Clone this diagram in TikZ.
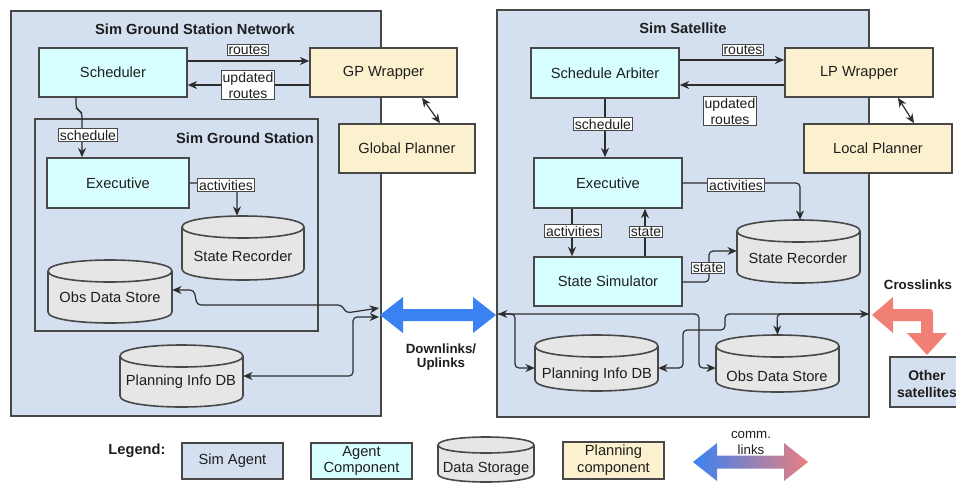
\documentclass[tikz,border=0pt]{standalone}
\usepackage{fontspec}
\setmainfont{Liberation Sans}
\usetikzlibrary{arrows.meta,fit}
\definecolor{agentc}{RGB}{212,223,240}
\definecolor{compc}{RGB}{216,255,255}
\definecolor{planc}{RGB}{252,241,206}
\definecolor{storec}{RGB}{230,230,230}
\definecolor{bord}{RGB}{72,72,72}
\definecolor{linec}{RGB}{45,45,45}
\definecolor{txt}{RGB}{30,30,30}
\definecolor{linkblue}{RGB}{58,130,242}
\definecolor{linkpink}{RGB}{240,128,118}
\definecolor{legpink}{RGB}{232,128,128}
\tikzset{
  every node/.style={text=txt},
  box/.style={draw=bord, line width=1.2pt, inner sep=0pt},
  agentbox/.style={box, fill=agentc},
  compbox/.style={box, fill=compc},
  planbox/.style={box, fill=planc},
  boxtxt/.style={inner sep=0pt, align=center, font=\fontsize{11}{12.5}\selectfont},
  ttl/.style={font=\bfseries\fontsize{11}{13}\selectfont, inner sep=0pt, align=center},
  lbl/.style={draw=bord, fill=white, line width=0.8pt, inner sep=1pt, align=center, font=\fontsize{10.5}{12}\selectfont},
  conn/.style={draw=linec, line width=0.9pt, rounded corners=3pt, -{Stealth[length=7pt,width=6pt]}},
  conntwo/.style={conn, {Stealth[length=7pt,width=6pt]}-{Stealth[length=7pt,width=6pt]}},
  cyltxt/.style={inner sep=0pt, font=\fontsize{11}{13}\selectfont},
}
\newcommand{\dbcyl}[6]{%
  \path[draw=bord, fill=storec, line width=1.2pt, line join=round]
    (#2,{#3+#6}) -- (#2,{#5-#6})
    .. controls (#2,{#5+0.333*#6}) and (#4,{#5+0.333*#6}) .. (#4,{#5-#6})
    -- (#4,{#3+#6})
    .. controls (#4,{#3-0.333*#6}) and (#2,{#3-0.333*#6}) .. (#2,{#3+#6}) -- cycle;
  \draw[bord, line width=1.2pt] (#2,{#3+#6})
    .. controls (#2,{#3+2.333*#6}) and (#4,{#3+2.333*#6}) .. (#4,{#3+#6});
  \node[fit={(#2,#3) (#4,#5)}, inner sep=0pt] (#1) {};
}
\begin{document}
\begin{tikzpicture}[x=0.75pt,y=-0.75pt]
\useasboundingbox (0,0) rectangle (956,483);

% ---------- agents
\node[agentbox, fit={(11,11) (381,416)}] (gsn) {};
\node[agentbox, fit={(497,10) (869,417)}] (sat) {};
\node[ttl] (gsnt) at (195,29) {Sim Ground Station Network};
\node[ttl] (satt) at (683,28) {Sim Satellite};
\node[agentbox, fit={(35,119) (318,331)}] (gs) {};
\node[ttl] (gst) at (245,138) {Sim Ground Station};

% ---------- ground side components
\node[compbox, fit={(39,48) (187,97)}] (sched) {};
\node[boxtxt] (schedt) at (sched) {Scheduler};
\node[planbox, fit={(310,48) (457,97)}] (gpw) {};
\node[boxtxt] (gpwt) at (gpw) {GP Wrapper};
\node[planbox, fit={(339,124) (475,173)}] (gp) {};
\node[boxtxt] (gpt) at (gp) {Global Planner};
\node[compbox, fit={(47,158) (189,208)}] (execG) {};
\node[boxtxt] (execGt) at (execG) {Executive};
\dbcyl{srG}{182}{216}{304}{280}{11}
\node[cyltxt] (srGt) at (243,256) {State Recorder};
\dbcyl{obsG}{48}{260}{172}{323}{11}
\node[cyltxt] (obsGt) at (110,297) {Obs Data Store};
\dbcyl{planG}{120}{345}{243}{407}{11}
\node[cyltxt] (planGt) at (181,382) {Planning Info DB};

% ---------- satellite components
\node[compbox, fit={(531,48) (679,98)}] (sa) {};
\node[boxtxt] (sat2) at (sa) {Schedule Arbiter};
\node[planbox, fit={(785,48) (933,97)}] (lpw) {};
\node[boxtxt] (lpwt) at (lpw) {LP Wrapper};
\node[planbox, fit={(804,124) (952,173)}] (lp) {};
\node[boxtxt] (lpt) at (lp) {Local Planner};
\node[compbox, fit={(534,158) (682,208)}] (execS) {};
\node[boxtxt] (execSt) at (execS) {Executive};
\node[compbox, fit={(534,257) (682,306)}] (simS) {};
\node[boxtxt] (simSt) at (simS) {State Simulator};
\dbcyl{srS}{737}{220}{860}{283}{11}
\node[cyltxt] (srSt) at (798,258) {State Recorder};
\dbcyl{planS}{535}{335}{658}{391}{11}
\node[cyltxt] (planSt) at (597,375) {Planning Info DB};
\dbcyl{obsS}{716}{335}{839}{392}{11}
\node[cyltxt] (obsSt) at (777,376) {Obs Data Store};
\node[agentbox, fit={(890,357) (962,407)}] (oth) {};
\node[boxtxt, font=\bfseries\fontsize{10.5}{13}\selectfont] (otht) at (927,384) {Other\\satellites};

% ---------- link end points
\coordinate (dl) at (379,308);
\coordinate (dltwo) at (379,317);
\coordinate (ul) at (498,314);
\coordinate (cl) at (869,314);

% ---------- ground connectors
\draw[conn] (sched.east |- 0,61) -- (gpw.west |- 0,61);
\draw[conn] (gpw.west |- 0,85) -- (sched.east |- 0,85);
\draw[conntwo, rounded corners=0pt] (gpw.south -| 422,0) -- (gp.north -| 440,0);
\draw[conn] (sched.south -| 76,0) -- (76,109) -- (82,112) -- (execG.north -| 82,0);
\draw[conn] (execG.east) -- (237,183) -- (srG.north -| 237,0);
\draw[conntwo] (obsG.east |- 0,290) -- (194,290) -- (197,305) -- (342,305) -- (346,313) -- (dl);
\draw[conntwo] (planG.east |- 0,376) -- (353,376) -- (353,317) -- (dltwo);

% ---------- satellite connectors
\draw[conn] (sa.east |- 0,60) -- (lpw.west |- 0,60);
\draw[conn] (lpw.west |- 0,85) -- (sa.east |- 0,85);
\draw[conntwo, rounded corners=0pt] (lpw.south -| 898,0) -- (lp.north -| 914,0);
\draw[conn] (sa.south -| 605,0) -- (execS.north -| 605,0);
\draw[conn] (execS.east |- 0,183) -- (800,183) -- (srS.north -| 800,0);
\draw[conn] (execS.south -| 572,0) -- (simS.north -| 572,0);
\draw[conn] (simS.north -| 645,0) -- (execS.south -| 645,0);
\draw[conn] (simS.east |- 0,282) -- (709,282) -- (709,251) -- (srS.west |- 0,251);
\draw[conn] (ul) -- (515,314) -- (515,368) -- (planS.west |- 0,368);
\draw[conntwo] (ul) -- (699,314) -- (699,368) -- (obsS.west |- 0,368);
\draw[conntwo] (cl) -- (725,314) -- (725,330) -- (683,330) -- (683,368) -- (planS.east |- 0,368);
\draw[conn] (cl) -- (777,314) -- (obsS.north);

% ---------- edge labels
\node[lbl] (l1) at (248,50) {routes};
\node[lbl] (l2) at (248,85) {updated\\routes};
\node[lbl] (l3) at (88,135) {schedule};
\node[lbl] (l4) at (226,185) {activities};
\node[lbl] (l5) at (743,50) {routes};
\node[lbl] (l6) at (730,111) {updated\\routes};
\node[lbl] (l7) at (603,124) {schedule};
\node[lbl] (l8) at (736,185) {activities};
\node[lbl] (l9) at (573,231) {activities};
\node[lbl] (l10) at (646,232) {state};
\node[lbl] (l11) at (708,268) {state};

% ---------- big link arrows
\fill[linkblue] (380,315) -- (403,297) -- (403,309) -- (473,309) -- (473,297) -- (496,315)
  -- (473,333) -- (473,321) -- (403,321) -- (403,333) -- cycle;
\node[ttl, font=\bfseries\fontsize{10}{10.5}\selectfont] (dlt) at (441,357) {Downlinks/\\Uplinks};
\fill[linkpink] (872,315) -- (893,297) -- (893,309) -- (926,309) .. controls (933,309) .. (933,316)
  -- (933,333) -- (947,333) -- (927,355) -- (907,333) -- (921,333) -- (921,321) -- (893,321)
  -- (893,333) -- cycle;
\node[ttl, font=\bfseries\fontsize{10}{12}\selectfont] (clt) at (918,285) {Crosslinks};

% ---------- legend
\node[ttl] (legt) at (137,451) {Legend:};
\node[agentbox, fit={(182,443) (283,479)}] (legA) {};
\node[boxtxt] (legAt) at (legA) {Sim Agent};
\node[compbox, fit={(311,443) (412,479)}] (legC) {};
\node[boxtxt] (legCt) at (legC) {Agent\\Component};
\dbcyl{legD}{438}{437}{534}{482}{8}
\node[cyltxt] (legDt) at (486,469) {Data Storage};
\node[planbox, fit={(563,442) (664,479)}] (legP) {};
\node[boxtxt] (legPt) at (legP) {Planning\\component};
\shade[left color=linkblue, right color=legpink] (693,462) -- (717,443) -- (717,455.5) -- (784,455.5)
  -- (784,443) -- (808,462) -- (784,481) -- (784,468.5) -- (717,468.5) -- (717,481) -- cycle;
\node[inner sep=0pt, align=center, font=\fontsize{10}{12}\selectfont] (legL) at (751,443) {comm.\\links};
\end{tikzpicture}
\end{document}
